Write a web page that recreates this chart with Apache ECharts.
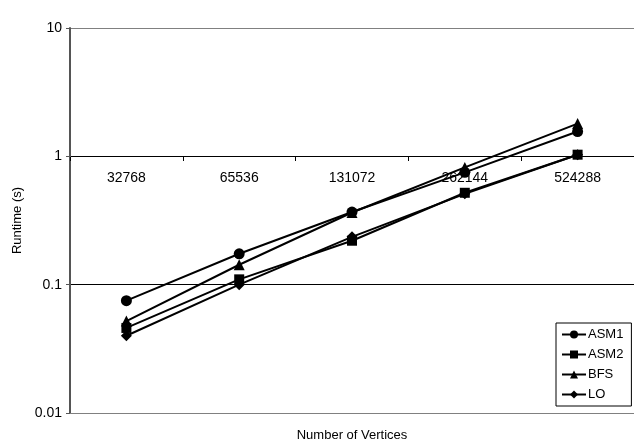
<!DOCTYPE html>
<html>
<head>
<meta charset="utf-8">
<script src="https://cdn.jsdelivr.net/npm/echarts@6/dist/echarts.min.js"></script>
<style>html,body{margin:0;padding:0;background:#fff}#c{width:634px;height:447px}</style>
</head>
<body>
<div id="c"></div>
<script>
const categories = ['32768', '65536', '131072', '262144', '524288'];
const asm1 = [0.075, 0.174, 0.368, 0.75, 1.56];
const asm2 = [0.046, 0.11, 0.22, 0.52, 1.03];
const bfs = [0.052, 0.143, 0.365, 0.82, 1.80];
const lo = [0.040, 0.100, 0.236, 0.51, 1.03];
const yTicks = [0.01, 0.1, 1, 10];

const font = 'Liberation Sans, Arial, sans-serif';
function ser(name, data, symbol, size) {
  return {
    name, type: 'line', data, symbol, symbolSize: size, xAxisIndex: 0,
    lineStyle: { color: '#000', width: 2 },
    itemStyle: { color: '#000' },
    emphasis: { disabled: true },
    animation: false
  };
}
const chart = echarts.init(document.getElementById('c'), null, { renderer: 'canvas' });
chart.setOption({
  backgroundColor: '#fff',
  animation: false,
  grid: { left: 70, top: 28, width: 567, height: 387 },
  legend: {
    orient: 'vertical', left: 556, top: 323,
    backgroundColor: '#fff', borderColor: '#000', borderWidth: 1,
    padding: [5, 8, 5, 5], itemGap: 7, itemWidth: 24, itemHeight: 10,
    textStyle: { fontFamily: font, fontSize: 13, color: '#000', padding: [0, 0, 0, -3] },
    data: ['ASM1', 'ASM2', 'BFS', 'LO']
  },
  xAxis: [{
    type: 'category', data: categories, position: 'top', offset: -129,
    axisLine: { show: false },
    axisTick: { show: true, inside: true, length: 4, lineStyle: { color: '#000' } },
    axisLabel: { inside: true, margin: 14, fontFamily: font, fontSize: 14, color: '#000' },
    splitLine: { show: false }
  }, {
    type: 'category', data: categories, position: 'bottom',
    axisLine: { show: true, lineStyle: { color: '#808080', width: 1 } },
    axisTick: { show: false }, axisLabel: { show: false },
    name: 'Number of Vertices', nameLocation: 'middle', nameGap: 16,
    nameTextStyle: { fontFamily: font, fontSize: 13, color: '#000' }
  }],
  yAxis: {
    type: 'log', logBase: 10, min: yTicks[0], max: yTicks[yTicks.length - 1],
    name: 'Runtime (s)', nameLocation: 'middle', nameGap: 46, nameRotate: 90,
    nameTextStyle: { fontFamily: font, fontSize: 13, color: '#000' },
    axisLine: { show: true, lineStyle: { color: '#555', width: 2 } },
    axisTick: { show: true, length: 4, lineStyle: { color: '#555' } },
    axisLabel: { fontFamily: font, fontSize: 14, color: '#000', margin: 8,
      formatter: v => String(v) },
    splitLine: { show: true, lineStyle: { color: ['#808080', '#000', '#000', '#808080'], width: 1 } }
  },
  series: [
    ser('ASM1', asm1, 'circle', 11),
    ser('ASM2', asm2, 'rect', 10),
    ser('BFS', bfs, 'triangle', 11),
    ser('LO', lo, 'diamond', 11)
  ]
});
</script>
</body>
</html>
